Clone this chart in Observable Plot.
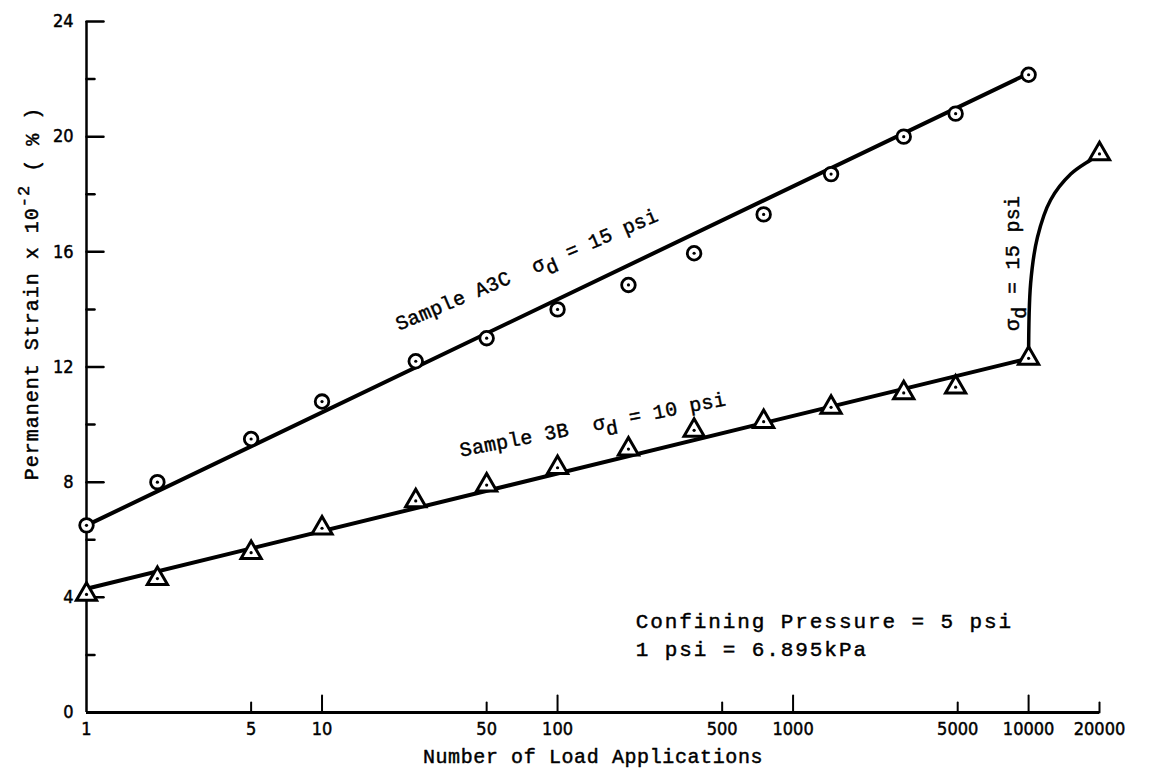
<!DOCTYPE html>
<html>
<head>
<meta charset="utf-8">
<script src="https://cdn.jsdelivr.net/npm/d3@7"></script>
<script src="https://cdn.jsdelivr.net/npm/@observablehq/plot@0.6"></script>
<style>
  html, body { margin: 0; padding: 0; background: #fff; }
  svg { display: block; }
</style>
</head>
<body>
<div id="chart"></div>
<script>
// ---- Data ----
// Sample A3C (sigma_d = 15 psi), circles
const loadsA  = [1, 2, 5, 10, 25, 50, 100, 200, 380, 750, 1450, 2950, 4900, 10000];
const strainA = [6.5, 8.0, 9.5, 10.8, 12.2, 13.0, 14.0, 14.85, 15.95, 17.3, 18.7, 20.0, 20.8, 22.15];
// Sample 3B (sigma_d = 10 psi), triangles
const loadsB  = [1, 2, 5, 10, 25, 50, 100, 200, 380, 750, 1450, 2950, 4900, 10000, 20000];
const strainB = [4.1, 4.65, 5.55, 6.4, 7.35, 7.9, 8.5, 9.15, 9.8, 10.1, 10.6, 11.1, 11.3, 12.3, 19.4];
// Fitted straight lines (semi-log)
const fitLoads = [1, 10000];
const fitA = [6.5, 22.2];
const fitB = [4.3, 12.3];
// Curve after stress increase to 15 psi (Sample 3B)
const curveLoads  = [10000, 10200, 10900, 12400, 15100, 18400, 20000];
const curveStrain = [12.3, 14.9, 16.5, 17.8, 18.7, 19.2, 19.4];
// Axes
const xTickLabels = [1, 5, 10, 50, 100, 500, 1000, 5000, 10000, 20000];
const xMajorTicks = [10, 100, 1000, 10000];
const xMinorTicks = [5, 50, 500, 5000, 20000];
const yTickLabels = [0, 4, 8, 12, 16, 20, 24];
const yMinorTicks = [2, 6, 10, 14, 18, 22];
// Texts
const xTitle = "Number of Load Applications";
const yTitle = "Permanent Strain x 10-2 ( % )";
const labelA = "Sample A3C  σd = 15 psi";
const labelB = "Sample 3B  σd = 10 psi";
const labelC = "σd = 15 psi";
const notes = ["Confining Pressure = 5 psi", "1 psi = 6.895kPa"];

// ---- Tables built from the arrays ----
const seriesA = loadsA.map((x, i) => ({x, y: strainA[i]}));
const seriesB = loadsB.map((x, i) => ({x, y: strainB[i]}));
const lineA = fitLoads.map((x, i) => ({x, y: fitA[i]}));
const lineB = fitLoads.map((x, i) => ({x, y: fitB[i]}));
const curveC = curveLoads.map((x, i) => ({x, y: curveStrain[i]}));

const mono = "'Liberation Mono', 'DejaVu Sans Mono', monospace";
const sans = "'Liberation Sans Narrow', 'DejaVu Sans Condensed', 'Liberation Sans', Arial, sans-serif";
const tickShape = {draw(ctx, l) { ctx.moveTo(0, 0); ctx.lineTo(0, -l); }};
const ink = {fill: "black", stroke: "black", strokeWidth: 0.45};

const plot = Plot.plot({
  width: 1149,
  height: 776,
  marginTop: 21,
  marginBottom: 64,
  marginLeft: 86,
  marginRight: 50,
  style: {background: "white", overflow: "visible", color: "black"},
  x: {type: "log", domain: [1, 20000], axis: null},
  y: {domain: [0, 24], axis: null},
  marks: [
    // axis lines
    Plot.ruleY([0], {stroke: "black", strokeWidth: 3}),
    Plot.ruleX([1], {stroke: "black", strokeWidth: 2.5}),
    // inward ticks
    Plot.vector(xMajorTicks, {x: d => d, y: 0, length: 17, rotate: 0, anchor: "start", shape: tickShape, stroke: "black", strokeWidth: 2}),
    Plot.vector(xMinorTicks, {x: d => d, y: 0, length: 10, rotate: 0, anchor: "start", shape: tickShape, stroke: "black", strokeWidth: 2}),
    Plot.vector(yTickLabels.filter(d => d > 0), {x: 1, y: d => d, length: 17, rotate: 90, anchor: "start", shape: tickShape, stroke: "black", strokeWidth: 2.5}),
    Plot.vector(yMinorTicks, {x: 1, y: d => d, length: 8, rotate: 90, anchor: "start", shape: tickShape, stroke: "black", strokeWidth: 2.5}),
    // tick labels
    Plot.text(xTickLabels, {x: d => d, y: 0, dy: 17, text: d => String(d), fontSize: 18, fontFamily: sans, ...ink}),
    Plot.text(yTickLabels, {x: 1, y: d => d, dx: -13, textAnchor: "end", text: d => String(d), fontSize: 18, fontFamily: sans, ...ink}),
    // axis titles
    Plot.text([xTitle], {frameAnchor: "bottom", dy: 50, fontSize: 20, fontFamily: mono, ...ink}),
    Plot.text([yTitle], {frameAnchor: "left", textAnchor: "middle", y: 14.55, dx: -55, rotate: -90, fontSize: 20, fontFamily: mono, ...ink}),
    // fitted lines and curve
    Plot.line(lineA, {x: "x", y: "y", stroke: "black", strokeWidth: 4}),
    Plot.line(lineB, {x: "x", y: "y", stroke: "black", strokeWidth: 4}),
    Plot.line(curveC, {x: "x", y: "y", curve: "catmull-rom", stroke: "black", strokeWidth: 3.5}),
    // markers
    Plot.dot(seriesA, {x: "x", y: "y", r: 6.8, fill: "white", stroke: "black", strokeWidth: 2.8}),
    Plot.dot(seriesA, {x: "x", y: "y", r: 1.6, fill: "black"}),
    Plot.dot(seriesB, {x: "x", y: "y", symbol: "triangle", r: 7.5, fill: "white", stroke: "black", strokeWidth: 3}),
    Plot.dot(seriesB, {x: "x", y: "y", r: 1.6, fill: "black"}),
    // in-plot labels
    Plot.text([labelA], {x: 74, y: 15.38, rotate: -23, fontSize: 20, fontFamily: mono, ...ink}),
    Plot.text([labelB], {x: 141, y: 10.0, rotate: -11, fontSize: 20, fontFamily: mono, ...ink}),
    Plot.text([labelC], {x: 8550, y: 15.6, rotate: -90, fontSize: 20, fontFamily: mono, ...ink}),
    Plot.text([notes[0]], {x: 215, y: 3.18, textAnchor: "start", fontSize: 21, fontFamily: mono, ...ink}),
    Plot.text([notes[1]], {x: 215, y: 2.2, textAnchor: "start", fontSize: 21, fontFamily: mono, ...ink})
  ]
});

// Post-process: subscripts / superscripts and letter spacing
d3.select(plot).selectAll("text").each(function() {
  const t = this.textContent;
  const sel = d3.select(this);
  if (t === notes[0] || t === notes[1]) sel.attr("letter-spacing", 1.9);
  else if (t === labelA || t === labelB || t === labelC) sel.attr("letter-spacing", 0.3);
  else if (t === xTitle) sel.attr("letter-spacing", 0.6);
  else if (t === yTitle) sel.attr("letter-spacing", 1.0);
  if (t.includes("σd")) {
    const parts = t.split("σd");
    sel.text(null);
    sel.append("tspan").text(parts[0] + "σ");
    sel.append("tspan").attr("dy", "0.35em").text("d");
    sel.append("tspan").attr("dy", "-0.35em").text(parts[1]);
  } else if (t === yTitle) {
    const i = t.indexOf("10-2");
    sel.text(null);
    sel.append("tspan").text(t.slice(0, i + 2));
    sel.append("tspan").attr("dy", "-0.5em").attr("font-size", 17).text("-2");
    sel.append("tspan").attr("dy", "0.5em").text(t.slice(i + 4));
  }
});

document.getElementById("chart").appendChild(plot);
</script>
</body>
</html>
